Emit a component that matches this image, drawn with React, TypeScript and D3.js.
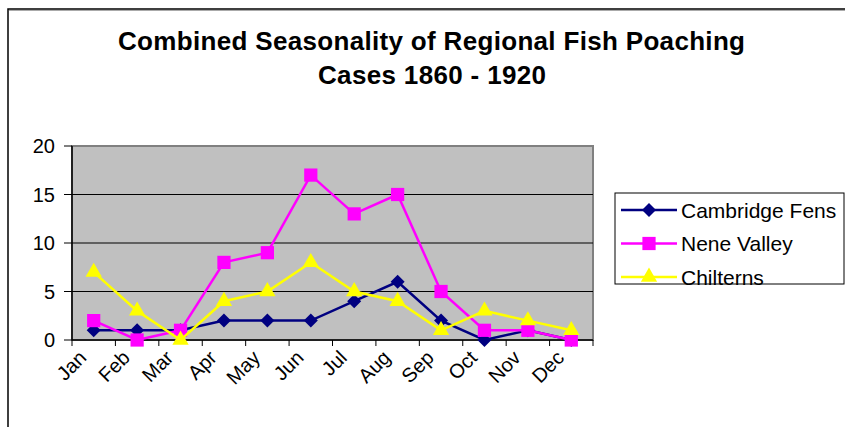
import React, { useEffect } from "react";
import * as d3 from "d3";

const months = ["Jan", "Feb", "Mar", "Apr", "May", "Jun", "Jul", "Aug", "Sep", "Oct", "Nov", "Dec"];
const cambridgeFens = [1, 1, 1, 2, 2, 2, 4, 6, 2, 0, 1, 0];
const neneValley = [2, 0, 1, 8, 9, 17, 13, 15, 5, 1, 1, 0];
const chilterns = [7, 3, 0, 4, 5, 8, 5, 4, 1, 3, 2, 1];
const yTicks = [0, 5, 10, 15, 20];

// Excel-style diamond: a square turned 45 degrees
const excelDiamond: d3.SymbolType = {
  draw(ctx, size) {
    const r = Math.sqrt(size / 2);
    ctx.moveTo(0, -r);
    ctx.lineTo(r, 0);
    ctx.lineTo(0, r);
    ctx.lineTo(-r, 0);
    ctx.closePath();
  },
};

const series = [
  { name: "Cambridge Fens", values: cambridgeFens, color: "#000080", symbol: excelDiamond, size: 98 },
  { name: "Nene Valley", values: neneValley, color: "#FF00FF", symbol: d3.symbolSquare, size: 175 },
  { name: "Chilterns", values: chilterns, color: "#FFFF00", symbol: d3.symbolTriangle, size: 115 },
];

const W = 845;
const H = 427;
const plot = { left: 72, right: 593, top: 146, bottom: 340 };
const FONT = "'Liberation Sans', Arial, sans-serif";

export default function App() {
  useEffect(() => {
    document.body.style.margin = "0";
  }, []);

  const x = d3.scaleBand<string>().domain(months).range([plot.left, plot.right]);
  const y = d3.scaleLinear().domain([0, 20]).range([plot.bottom, plot.top]);
  const cx = (m: string) => (x(m) as number) + x.bandwidth() / 2;

  const line = d3
    .line<number>()
    .x((_, i) => cx(months[i]))
    .y(d => y(d));

  const markerFor = (s: typeof series[0]) => d3.symbol().type(s.symbol).size(s.size)() as string;

  const bandEdges = months.map(m => x(m) as number).concat([plot.right]);

  return (
    <svg width={W} height={H} style={{ display: "block", background: "#fff" }} fontFamily={FONT}>
      {/* chart frame */}
      <rect x={8} y={9} width={900} height={500} fill="none" stroke="#000" strokeWidth={1.5} />
      <line x1={9} x2={900} y1={10.5} y2={10.5} stroke="#aaa" strokeWidth={1} />

      {/* title */}
      <text x={431.5} y={50} textAnchor="middle" fontSize={26} fontWeight="bold" textLength={627} lengthAdjust="spacing">
        Combined Seasonality of Regional Fish Poaching
      </text>
      <text x={432} y={84} textAnchor="middle" fontSize={26} fontWeight="bold" textLength={228} lengthAdjust="spacing">
        Cases 1860 - 1920
      </text>

      {/* plot area */}
      <rect x={plot.left} y={plot.top} width={plot.right - plot.left} height={plot.bottom - plot.top} fill="#C0C0C0" stroke="#808080" strokeWidth={2} />
      {yTicks.filter(t => t > 0 && t < 20).map(t => (
        <line key={t} x1={plot.left} x2={plot.right} y1={y(t)} y2={y(t)} stroke="#000" strokeWidth={1} />
      ))}

      {/* y axis */}
      <line x1={plot.left} x2={plot.left} y1={plot.top} y2={plot.bottom} stroke="#000" strokeWidth={1.5} />
      {yTicks.map(t => (
        <g key={t}>
          <line x1={plot.left - 8} x2={plot.left} y1={y(t)} y2={y(t)} stroke="#000" strokeWidth={1} />
          <text x={55} y={y(t) + 7} textAnchor="end" fontSize={20}>{t}</text>
        </g>
      ))}

      {/* x axis */}
      <line x1={plot.left} x2={plot.right} y1={plot.bottom} y2={plot.bottom} stroke="#000" strokeWidth={1.5} />
      {bandEdges.map((bx, i) => (
        <line key={i} x1={bx} x2={bx} y1={plot.bottom} y2={plot.bottom + 6} stroke="#000" strokeWidth={1} />
      ))}
      {months.map(m => (
        <text key={m} transform={`translate(${cx(m) - 6},${plot.bottom + 19}) rotate(-45)`} textAnchor="end" fontSize={20}>
          {m}
        </text>
      ))}

      {/* series */}
      {series.map(s => (
        <g key={s.name}>
          <path d={line(s.values) as string} fill="none" stroke={s.color} strokeWidth={2.5} />
          {s.values.map((v, i) => (
            <path key={i} d={markerFor(s)} transform={`translate(${cx(months[i])},${y(v)})`} fill={s.color} />
          ))}
        </g>
      ))}

      {/* legend */}
      <rect x={615} y={193} width={229} height={91} fill="#fff" stroke="#000" strokeWidth={1} />
      {series.map((s, i) => {
        const ly = 210 + i * 33.5;
        return (
          <g key={s.name}>
            <line x1={621} x2={677} y1={ly} y2={ly} stroke={s.color} strokeWidth={2.5} />
            <path d={markerFor(s)} transform={`translate(649,${ly})`} fill={s.color} />
            <text x={681} y={ly + 7.5} fontSize={21}>{s.name}</text>
          </g>
        );
      })}
    </svg>
  );
}
